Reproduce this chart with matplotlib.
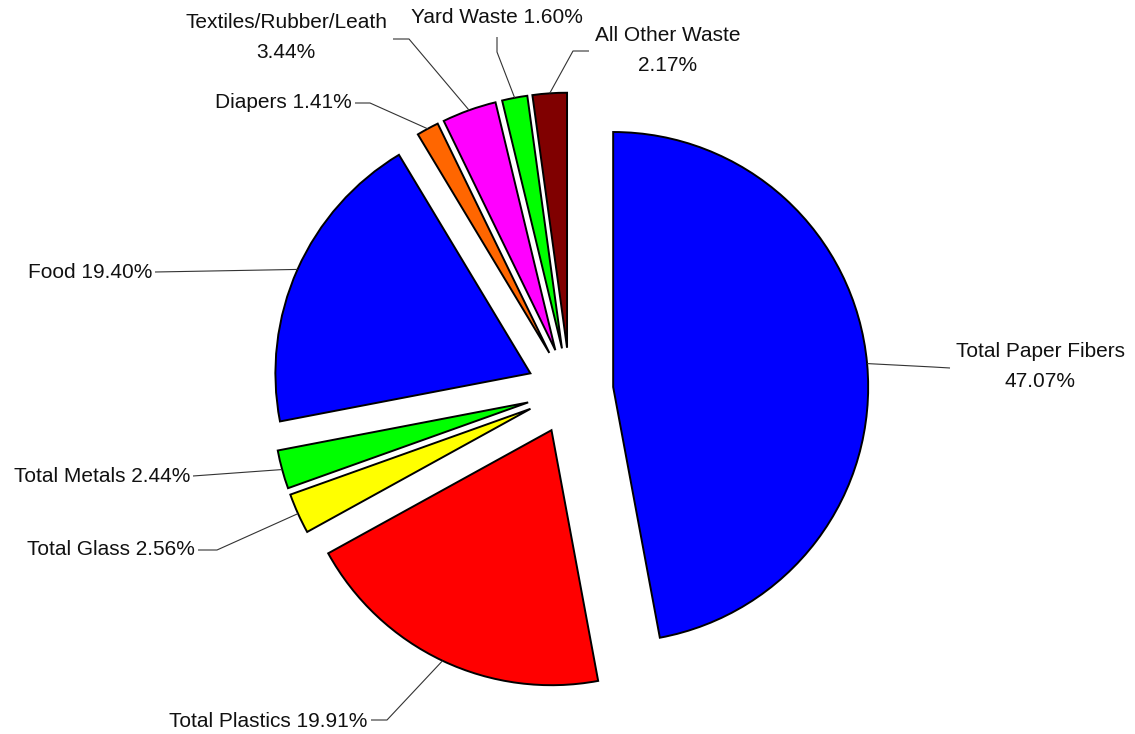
import numpy as np
import matplotlib
matplotlib.use('Agg')
import matplotlib.pyplot as plt

categories = ['Total Paper Fibers', 'Total Plastics', 'Total Glass', 'Total Metals',
              'Food', 'Diapers', 'Textiles/Rubber/Leath', 'Yard Waste', 'All Other Waste']
percents = [47.07, 19.91, 2.56, 2.44, 19.40, 1.41, 3.44, 1.60, 2.17]
colors = ['#0000ff', '#ff0000', '#ffff00', '#00ff00', '#0000ff',
          '#ff6600', '#ff00ff', '#00ff00', '#800000']
# which labels break the value onto a second line
two_line = [True, False, False, False, False, False, True, False, True]

# label layout in image pixels (origin top-left):
# text x, first baseline y, alignment, leader points from the text end towards the slice
label_layout = [
    (1040, 357, 'center', [(950, 368), (933, 367)]),
    (367, 727, 'right', [(371, 720), (387, 720)]),
    (195, 555, 'right', [(198, 550), (217, 550)]),
    (190, 482, 'right', [(193, 476)]),
    (152, 278, 'right', [(155, 272)]),
    (352, 108, 'right', [(355, 103), (370, 103)]),
    (286, 28, 'center', [(393, 39), (409, 39)]),
    (497, 23, 'center', [(497, 37), (497, 52)]),
    (668, 41, 'center', [(589, 51), (573, 51)]),
]

W, H = 1135, 734
CX, CY, R = 570, 391, 255   # pie centre and radius in pixels


def px(x, y):
    return (x - CX) / R, (CY - y) / R


fig = plt.figure(figsize=(W / 100, H / 100), dpi=100)
ax = fig.add_axes([0, 0, 1, 1])

wedges, _ = ax.pie(percents, colors=colors, explode=[0.17] * len(percents),
                   startangle=90, counterclock=False, radius=1,
                   wedgeprops=dict(edgecolor='black', linewidth=1.4))

ax.set_xlim(-CX / R, (W - CX) / R)
ax.set_ylim(-(H - CY) / R, CY / R)
ax.set_aspect('equal')
ax.axis('off')

for w, name, pct, split, (tx, ty, ha, pts) in zip(wedges, categories, percents,
                                                  two_line, label_layout):
    mid = np.deg2rad((w.theta1 + w.theta2) / 2)
    ax_pt = (w.center[0] + w.r * np.cos(mid), w.center[1] + w.r * np.sin(mid))
    path = [px(*p) for p in pts] + [ax_pt]
    xs, ys = zip(*path)
    ax.plot(xs, ys, color='#333333', linewidth=0.8, solid_capstyle='butt')

    lines = [name, f'{pct:.2f}%'] if split else [f'{name} {pct:.2f}%']
    for i, line in enumerate(lines):
        x, y = px(tx, ty + i * 30)
        ax.text(x, y, line, ha=ha, va='baseline', fontsize=15,
                family='Liberation Sans', color='#111111')

fig.savefig('out.png', dpi=100)
